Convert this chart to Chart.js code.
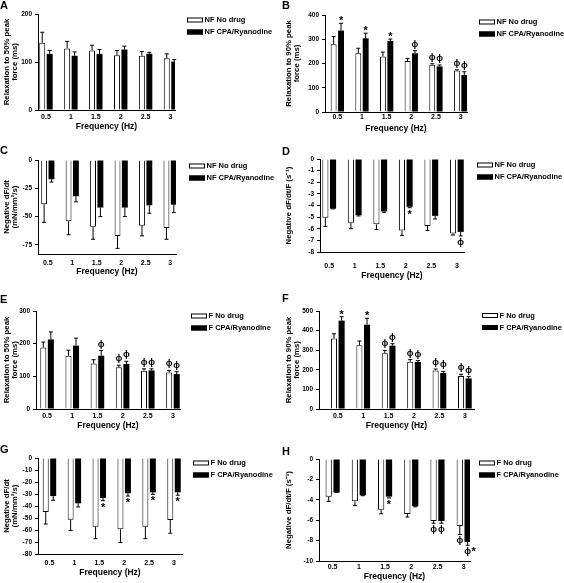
<!DOCTYPE html>
<html>
<head>
<meta charset="utf-8">
<script src="https://cdn.jsdelivr.net/npm/chart.js@4.4.0/dist/chart.umd.min.js"></script>
<style>
    body { margin: 0; background: #fff; }
    #wrap { position: relative; width: 564px; height: 583px; overflow: hidden; }
    canvas { position: absolute; }
</style>
</head>
<body>
<div id="wrap">
    <canvas id="chartA" width="282" height="145" style="left:0;top:0"></canvas>
    <canvas id="chartB" width="282" height="145" style="left:282px;top:0"></canvas>
    <canvas id="chartC" width="282" height="145" style="left:0;top:145px"></canvas>
    <canvas id="chartD" width="282" height="145" style="left:282px;top:145px"></canvas>
    <canvas id="chartE" width="282" height="145" style="left:0;top:290px"></canvas>
    <canvas id="chartF" width="282" height="145" style="left:282px;top:290px"></canvas>
    <canvas id="chartG" width="282" height="145" style="left:0;top:438px"></canvas>
    <canvas id="chartH" width="282" height="145" style="left:282px;top:438px"></canvas>
</div>
<script>
// frequencies (Hz) shared by every panel
const freqs = [0.5, 1, 1.5, 2, 2.5, 3];
const freqLabels = ['0.5', '1', '1.5', '2', '2.5', '3'];

// A - NF relaxation to 50% peak force (ms)
const aNoDrug = [140, 128, 124, 114, 113, 108];
const aNoDrugErr = [22, 15, 11, 10, 9, 9];
const aDrug = [117, 113, 117, 126, 117, 101];
const aDrugErr = [7, 8, 9, 7, 3, 4];
const aTicks = [0, 100, 200];

// B - NF relaxation to 90% peak force (ms)
const bNoDrug = [279, 242, 229, 210, 195, 171];
const bNoDrugErr = [32, 21, 18, 11, 4, 3];
const bDrug = [336, 304, 293, 242, 188, 152];
const bDrugErr = [30, 21, 8, 11, 6, 14];
const bNoDrugMark = ['', '', '', '', 'ϕ', 'ϕ'];
const bDrugMark = ['*', '*', '*', 'ϕ', 'ϕ', 'ϕ'];
const bTicks = [0, 100, 200, 300, 400];

// C - NF negative dF/dt
const cNoDrug = [-39, -54, -59, -67, -58, -60];
const cNoDrugErr = [16, 12, 11, 11, 9, 10];
const cDrug = [-17, -32, -42, -42, -40, -39.5];
const cDrugErr = [2.5, 5, 8, 8, 7, 7];
const cTicks = [0, -25, -50, -75];

// D - NF negative dF/dt/F
const dNoDrug = [-5.05, -5.49, -5.62, -6.14, -5.76, -6.4];
const dNoDrugErr = [0.75, 0.5, 0.45, 0.43, 0.4, 0.14];
const dDrug = [-4.27, -4.84, -4.51, -4.11, -4.89, -6.27];
const dDrugErr = [0.02, 0.06, 0.08, 0.08, 0.27, 0.35];
const dDrugMark = ['', '', '', '*', '', 'ϕ'];
const dTicks = [0, -1, -2, -3, -4, -5, -6, -7, -8];

// E - F relaxation to 50% peak force (ms)
const eNoDrug = [188, 163, 139, 128, 117, 112];
const eNoDrugErr = [17, 17, 12, 6, 6, 6];
const eDrug = [213, 194, 163, 138, 118, 107];
const eDrugErr = [23, 23, 16, 8, 5, 7];
const eNoDrugMark = ['', '', '', 'ϕ', 'ϕ', 'ϕ'];
const eDrugMark = ['', '', 'ϕ', 'ϕ', 'ϕ', 'ϕ'];
const eTicks = [0, 100, 200, 300];

// F - F relaxation to 90% peak force (ms)
const fNoDrug = [360, 325, 284, 241, 197, 168];
const fNoDrugErr = [24, 22, 15, 11, 7, 9];
const fDrug = [451, 430, 323, 240, 184, 156];
const fDrugErr = [20, 33, 10, 7, 8, 9];
const fNoDrugMark = ['', '', 'ϕ', 'ϕ', 'ϕ', 'ϕ'];
const fDrugMark = ['*', '*', 'ϕ', 'ϕ', 'ϕ', 'ϕ'];
const fTicks = [0, 100, 200, 300, 400, 500];

// G - F negative dF/dt
const gNoDrug = [-45, -51.4, -57.2, -59.4, -57.2, -51.7];
const gNoDrugErr = [10, 9, 10, 11, 10, 11];
const gDrug = [-31.7, -37.8, -33.3, -29.4, -28.6, -28.6];
const gDrugErr = [3.5, 3, 2.3, 2.3, 1.7, 2.4];
const gDrugMark = ['', '', '*', '*', '*', '*'];
const gTicks = [0, -10, -20, -30, -40, -50, -60, -70, -80];

// H - F negative dF/dt/F
const hNoDrug = [-3.7, -4.15, -4.97, -5.39, -6.08, -6.57];
const hNoDrugErr = [0.45, 0.42, 0.4, 0.3, 0.22, 0.83];
const hDrug = [-3.27, -3.56, -3.69, -4.64, -6.08, -8.14];
const hDrugErr = [0.02, 0.04, 0.13, 0.05, 0.22, 0.32];
const hNoDrugMark = ['', '', '', '', 'ϕ', 'ϕ'];
const hDrugMark = ['', '', '*', '', 'ϕ', 'ϕ*'];
const hTicks = [0, -1, -2, -3, -4, -5, -6, -7, -8, -9, -10];

const W = 282, H = 145;
const FONT = '"Liberation Sans", Arial, sans-serif';

Chart.defaults.font.family = FONT;
Chart.defaults.font.weight = 'bold';
Chart.defaults.color = '#000';

// one-sided error bars + significance marks, drawn from the y scale
const errorBarPlugin = {
    id: 'errorBars',
    afterDatasetsDraw(chart) {
        const ctx = chart.ctx;
        const yScale = chart.scales.y;
        chart.data.datasets.forEach((ds, di) => {
            const meta = chart.getDatasetMeta(di);
            meta.data.forEach((bar, i) => {
                const v = ds.data[i].y;
                const dir = v < 0 ? -1 : 1;
                const yEnd = yScale.getPixelForValue(v + dir * ds.errors[i]);
                ctx.save();
                ctx.strokeStyle = '#000';
                ctx.lineWidth = 1;
                ctx.beginPath();
                ctx.moveTo(bar.x, bar.y);
                ctx.lineTo(bar.x, yEnd);
                ctx.moveTo(bar.x - 2, yEnd);
                ctx.lineTo(bar.x + 2, yEnd);
                ctx.stroke();

                const mark = ds.marks ? ds.marks[i] : '';
                if (mark) {
                    ctx.fillStyle = '#000';
                    ctx.textBaseline = 'alphabetic';
                    let x = bar.x;
                    [...mark].forEach((ch, k) => {
                        ctx.font = (ch === '*' ? 'bold 11px ' : 'bold 9px ') + FONT;
                        const m = ctx.measureText(ch);
                        const h = m.actualBoundingBoxAscent + m.actualBoundingBoxDescent;
                        const cy = dir > 0 ? yEnd - 2 - h / 2 : yEnd + 2 + h / 2;
                        const base = cy + (m.actualBoundingBoxAscent - m.actualBoundingBoxDescent) / 2;
                        if (k === 0) {
                            ctx.textAlign = 'center';
                            ctx.fillText(ch, x, base);
                            x += m.width / 2 + 0.5;
                        } else {
                            ctx.textAlign = 'left';
                            ctx.fillText(ch, x, base);
                            x += m.width;
                        }
                    });
                }
                ctx.restore();
            });
        });
    }
};

// legend to the right of the plot
const sideLegendPlugin = {
    id: 'sideLegend',
    afterDraw(chart, args, opts) {
        const ctx = chart.ctx;
        ctx.save();
        ctx.font = 'bold 7.5px ' + FONT;
        ctx.textBaseline = 'middle';
        ctx.textAlign = 'left';
        chart.data.datasets.forEach((ds, i) => {
            const y = opts.y + i * opts.gap;
            ctx.fillStyle = ds.backgroundColor;
            ctx.fillRect(opts.x, y - 2.5, 16, 5);
            ctx.strokeStyle = '#000';
            ctx.lineWidth = 1;
            ctx.strokeRect(opts.x + 0.5, y - 2, 15, 4);
            ctx.fillStyle = '#000';
            ctx.fillText(ds.label, opts.x + 17.5, y);
        });
        ctx.restore();
    }
};

const buildChart = (p) => {
    const g = p.box;
    const none = freqs.map(() => '');
    const datasets = [
        {
            label: p.group + ' No drug',
            data: freqs.map((f, i) => ({ x: f, y: p.noDrug[i] })),
            errors: p.noDrugErr,
            marks: p.noDrugMark || none,
            backgroundColor: '#fff',
            borderColor: '#000',
            borderWidth: 1
        },
        {
            label: p.group + ' CPA/Ryanodine',
            data: freqs.map((f, i) => ({ x: f, y: p.drug[i] })),
            errors: p.drugErr,
            marks: p.drugMark || none,
            backgroundColor: '#000',
            borderColor: '#000',
            borderWidth: 0
        }
    ];
    const letterPad = Math.max(0, g.letterY - 5.5);

    return new Chart(document.getElementById(p.id), {
        type: 'bar',
        data: { datasets },
        options: {
            responsive: false,
            animation: false,
            layout: { padding: { left: 0, top: 0, right: W - g.right, bottom: 0 } },
            datasets: { bar: { categoryPercentage: 0.6, barPercentage: 0.8, borderSkipped: 'start' } },
            scales: {
                x: {
                    type: 'linear',
                    min: g.xMin,
                    max: g.xMax,
                    offset: false,
                    afterBuildTicks: s => { s.ticks = freqs.map(v => ({ value: v })); },
                    afterFit: s => { s.height = H - g.bottom; },
                    grid: { display: false, drawTicks: false },
                    border: { display: true, color: '#000', width: 1 },
                    ticks: {
                        font: { size: 7, lineHeight: 1 },
                        padding: g.tickY - g.bottom - 3.5,
                        maxRotation: 0,
                        autoSkip: false,
                        callback: (v, i) => freqLabels[i]
                    },
                    title: {
                        display: true,
                        text: 'Frequency (Hz)',
                        font: { size: 8.5, lineHeight: 1 },
                        padding: { top: 0, bottom: H - g.titleY - 4.25 }
                    }
                },
                y: {
                    min: p.yMin,
                    max: p.yMax,
                    afterBuildTicks: s => { s.ticks = p.yTicks.map(v => ({ value: v })); },
                    afterFit: s => { s.width = g.left; },
                    grid: { drawOnChartArea: false, drawTicks: true, tickLength: 3, color: '#000' },
                    border: { display: true, color: '#000', width: 1 },
                    ticks: { font: { size: 6.5 }, padding: 3 },
                    title: {
                        display: true,
                        text: p.yTitle,
                        font: { size: 7.8, lineHeight: 1 },
                        padding: { top: 3, bottom: 0 }
                    }
                }
            },
            plugins: {
                legend: { display: false },
                tooltip: { enabled: false },
                title: {
                    display: true,
                    text: p.letter,
                    align: 'start',
                    font: { size: 11, lineHeight: 1 },
                    padding: { top: letterPad, bottom: g.top - letterPad - 11 }
                },
                sideLegend: { x: g.legendX, y: g.legendY, gap: 12 }
            }
        },
        plugins: [errorBarPlugin, sideLegendPlugin]
    });
};

const relax50 = ['Relaxation to 50% peak', 'force (ms)'];
const relax90 = ['Relaxation to 90% peak', 'force (ms)'];
const negDfdt = ['Negative dF/dt', '(mN/mm²/s)'];
const negDfdtF = 'Negative dF/dt/F (s⁻¹)';

buildChart({ id: 'chartA', letter: 'A', group: 'NF', yTitle: relax50, yMin: 0, yMax: 200, yTicks: aTicks,
    noDrug: aNoDrug, noDrugErr: aNoDrugErr, drug: aDrug, drugErr: aDrugErr,
    box: { left: 38, top: 14, right: 175, bottom: 110, xMin: 0.34, xMax: 3.09, tickY: 117, titleY: 127, legendX: 187, legendY: 20, letterY: 4 } });

buildChart({ id: 'chartB', letter: 'B', group: 'NF', yTitle: relax90, yMin: 0, yMax: 400, yTicks: bTicks,
    noDrug: bNoDrug, noDrugErr: bNoDrugErr, noDrugMark: bNoDrugMark, drug: bDrug, drugErr: bDrugErr, drugMark: bDrugMark,
    box: { left: 43, top: 15, right: 185, bottom: 112, xMin: 0.25, xMax: 3.13, tickY: 117.5, titleY: 129, legendX: 197, legendY: 22, letterY: 5 } });

buildChart({ id: 'chartC', letter: 'C', group: 'NF', yTitle: negDfdt, yMin: -83, yMax: 0, yTicks: cTicks,
    noDrug: cNoDrug, noDrugErr: cNoDrugErr, drug: cDrug, drugErr: cDrugErr,
    box: { left: 38, top: 15, right: 176, bottom: 109, xMin: 0.3, xMax: 3.12, tickY: 118.5, titleY: 127, legendX: 189, legendY: 21, letterY: 6 } });

buildChart({ id: 'chartD', letter: 'D', group: 'NF', yTitle: negDfdtF, yMin: -8, yMax: 0, yTicks: dTicks,
    noDrug: dNoDrug, noDrugErr: dNoDrugErr, drug: dDrug, drugErr: dDrugErr, drugMark: dDrugMark,
    box: { left: 38, top: 14, right: 182, bottom: 107, xMin: 0.32, xMax: 3.14, tickY: 121, titleY: 130.5, legendX: 195, legendY: 20, letterY: 6.5 } });

buildChart({ id: 'chartE', letter: 'E', group: 'F', yTitle: relax50, yMin: 0, yMax: 300, yTicks: eTicks,
    noDrug: eNoDrug, noDrugErr: eNoDrugErr, noDrugMark: eNoDrugMark, drug: eDrug, drugErr: eDrugErr, drugMark: eDrugMark,
    box: { left: 36, top: 21, right: 180, bottom: 119, xMin: 0.28, xMax: 3.14, tickY: 126, titleY: 135.5, legendX: 191, legendY: 26, letterY: 10 } });

buildChart({ id: 'chartF', letter: 'F', group: 'F', yTitle: relax90, yMin: 0, yMax: 500, yTicks: fTicks,
    noDrug: fNoDrug, noDrugErr: fNoDrugErr, noDrugMark: fNoDrugMark, drug: fDrug, drugErr: fDrugErr, drugMark: fDrugMark,
    box: { left: 37, top: 21, right: 192, bottom: 119, xMin: 0.13, xMax: 3.18, tickY: 126, titleY: 136, legendX: 200, legendY: 25.5, letterY: 9 } });

buildChart({ id: 'chartG', letter: 'G', group: 'F', yTitle: negDfdt, yMin: -80, yMax: 0, yTicks: gTicks,
    noDrug: gNoDrug, noDrugErr: gNoDrugErr, drug: gDrug, drugErr: gDrugErr, drugMark: gDrugMark,
    box: { left: 38, top: 20, right: 182, bottom: 116, xMin: 0.27, xMax: 3.16, tickY: 125, titleY: 135, legendX: 193, legendY: 25, letterY: 12 } });

buildChart({ id: 'chartH', letter: 'H', group: 'F', yTitle: negDfdtF, yMin: -10, yMax: 0, yTicks: hTicks,
    noDrug: hNoDrug, noDrugErr: hNoDrugErr, noDrugMark: hNoDrugMark, drug: hDrug, drugErr: hDrugErr, drugMark: hDrugMark,
    box: { left: 37, top: 21, right: 188, bottom: 123, xMin: 0.24, xMax: 3.12, tickY: 129, titleY: 139, legendX: 197, legendY: 25, letterY: 13.5 } });
</script>
</body>
</html>
